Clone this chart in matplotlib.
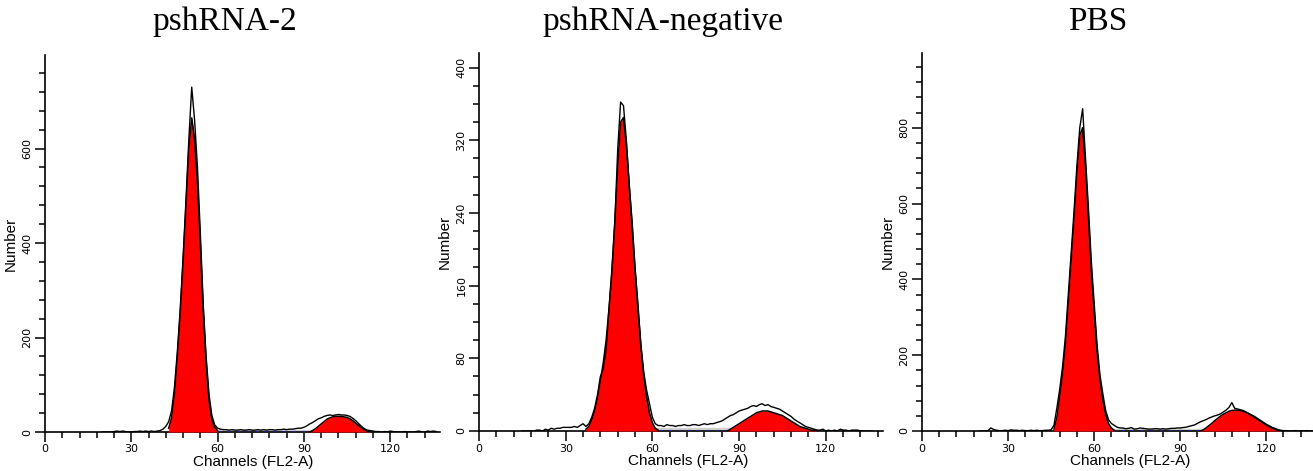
import numpy as np
import matplotlib
matplotlib.use('Agg')
import matplotlib.pyplot as plt
from matplotlib.ticker import MultipleLocator
from matplotlib.transforms import blended_transform_factory

# ---- pshRNA-2 ----
p1_start = 20
p1_counts = [0, 0, 0, 0,
             1, 2, 1, 2, 1, 0,
             0, 1, 1, 2, 1, 2, 1, 2, 1, 2,
             3, 6, 12,
             22, 45, 95, 170, 260, 370, 490, 620, 730, 660, 560, 420, 270, 160, 80, 35, 15, 8,
             6, 5, 5, 4, 5, 4, 4, 5, 4, 4, 5, 4, 4, 5, 4, 5, 4, 5, 5, 4, 5, 5, 6, 5, 6, 6, 7, 8, 8, 10, 13, 17,
             20, 24, 28, 30, 33, 35, 36, 35, 36, 37, 36, 36, 35, 33, 29, 24, 18, 12, 7, 4, 3,
             2, 1, 1, 0, 1, 0, 2, 1, 0, 0, 0, 1, 0, 0, 0, 1, 2, 0, 0, 2, 1, 2, 1]
p1_g1_start = 43
p1_g1 = [8, 30, 80, 160, 250, 360, 480, 600, 665, 620, 530, 400, 260, 150, 70, 28, 10, 3]
p1_g2_start = 92
p1_g2 = [0, 3, 7, 12, 17, 22, 27, 30, 32, 33, 33, 33, 32, 31, 28, 24, 19, 14, 9, 5, 2, 0]
p1_s = [57, 96, 4]

# ---- pshRNA-negative ----
p2_start = 15
p2_counts = [0, 0, 0, 0, 0,
             1, 1, 0, 2, 1, 3, 2, 3, 3, 4, 4, 4, 4, 5, 4, 6, 8,
             5, 8, 15, 25, 40, 60, 68, 90, 135, 175, 230, 310, 362, 358, 320, 270, 230, 180, 140, 95,
             65, 45, 30, 15, 8, 6,
             6, 5, 7, 6, 6, 5, 6, 6, 7, 6, 6, 7, 7, 6, 7, 8, 7, 8, 8, 9, 10, 11, 13, 15,
             17, 18, 20, 22, 23, 24, 25, 27, 28, 27, 29, 30, 28, 29, 27, 26, 25, 24, 22, 20, 18, 16,
             13, 11, 9, 7, 5, 4, 3, 2, 1,
             1, 2, 0, 1, 0, 1, 0, 2, 1, 1, 0, 1, 1, 1, 0, 0, 0, 0, 0]
p2_g1_start = 37
p2_g1 = [2, 5, 12, 22, 36, 55, 75, 100, 135, 178, 230, 290, 340, 345, 315, 270, 225, 178, 135, 95,
         62, 38, 20, 9, 3, 1]
p2_g2_start = 86
p2_g2 = [0, 2, 4, 6, 8, 10, 12, 14, 16, 18, 20, 21, 22, 22, 22, 21, 20, 19, 18, 17, 15, 13, 11, 9,
         7, 5, 4, 3, 2, 1, 1, 0]
p2_s = [53, 100, 3]

# ---- PBS ----
p3_start = 20
p3_counts = [0, 0, 0, 1,
             8, 4, 2,
             1, 1, 2, 1, 3, 2, 2, 1, 2, 1, 1, 2, 1, 2, 1, 1, 2, 2,
             3, 15, 60, 110, 170, 250, 360, 470, 580, 700, 800, 850, 720, 590, 450, 340, 230, 150,
             100, 55, 30, 20, 15, 10, 8,
             8, 6, 7, 9, 5, 6, 8, 7, 6, 5, 5, 6, 6, 5, 6, 5, 6, 7, 7, 8, 8, 9, 10, 12, 14, 16,
             20, 24, 27, 30, 34, 37, 40, 42, 45, 50, 55, 62, 75, 60, 58, 56, 54, 50, 46, 42, 38, 33,
             28, 23, 18, 14, 10, 7, 4, 2, 1,
             1, 0, 0, 1, 0, 0, 0, 1, 0, 0]
p3_g1_start = 46
p3_g1 = [5, 35, 90, 150, 230, 340, 450, 560, 680, 780, 800, 700, 570, 430, 320, 215, 140, 85, 45,
         20, 8, 2]
p3_g2_start = 97
p3_g2 = [0, 3, 8, 14, 20, 27, 33, 39, 44, 48, 52, 54, 55, 55, 54, 52, 49, 45, 41, 36, 31, 26, 21,
         16, 12, 8, 5, 2, 0]
p3_s = [60, 104, 4]

titles = ['pshRNA-2', 'pshRNA-negative', 'PBS']
y_max = [798, 416, 997]
y_major = [200, 80, 200]
y_minor = [40, 20, 40]
x_max = [137.3, 139.8, 136.3]

# pixel boxes (left, right, top, bottom) in the 1313x471 picture
boxes = [(45, 440, 55, 432), (479, 883, 53, 431), (922, 1313, 53, 431)]
title_x = [225, 663, 1098]

panels = [
    (p1_start, p1_counts, p1_g1_start, p1_g1, p1_g2_start, p1_g2, p1_s),
    (p2_start, p2_counts, p2_g1_start, p2_g1, p2_g2_start, p2_g2, p2_s),
    (p3_start, p3_counts, p3_g1_start, p3_g1, p3_g2_start, p3_g2, p3_s),
]

W, H = 1313, 471
fig = plt.figure(figsize=(W / 100, H / 100), dpi=100)

for i, (c0, counts, g1s, g1, g2s, g2, s) in enumerate(panels):
    l, r, t, b = boxes[i]
    ax = fig.add_axes([l / W, (H - b) / H, (r - l) / W, (b - t) / H])

    ch = np.arange(c0, c0 + len(counts))
    ch1 = np.arange(g1s, g1s + len(g1))
    ch2 = np.arange(g2s, g2s + len(g2))
    chs = np.arange(s[0], s[1] + 1)

    # S phase band on the baseline
    ax.fill_between(chs, 0, s[2], color='#cfcfcf', zorder=2)
    ax.plot(chs, np.full(len(chs), s[2] * 0.5), color='#2020c0', lw=0.9,
            ls=(0, (1.5, 6)), zorder=3)

    # G1 / G2 fit
    ax.fill_between(ch1, 0, g1, color='#ff0000', lw=0, zorder=3)
    ax.plot(ch1, g1, color='black', lw=1.1, zorder=4)
    ax.fill_between(ch2, 0, g2, color='#ff0000', lw=0, zorder=3)
    ax.plot(ch2, g2, color='black', lw=1.1, zorder=4)

    # raw histogram
    ax.plot(ch, counts, color='black', lw=1.0, zorder=5)

    ax.set_xlim(0, x_max[i])
    ax.set_ylim(0, y_max[i])
    for sp in ['top', 'right']:
        ax.spines[sp].set_visible(False)
    ax.spines['left'].set_linewidth(1.2)
    ax.spines['bottom'].set_linewidth(1.2)

    ax.xaxis.set_major_locator(MultipleLocator(30))
    ax.xaxis.set_minor_locator(MultipleLocator(6))
    ax.yaxis.set_major_locator(MultipleLocator(y_major[i]))
    ax.yaxis.set_minor_locator(MultipleLocator(y_minor[i]))
    ax.tick_params(which='major', direction='out', length=7, width=1.1, labelsize=8, pad=2)
    ax.tick_params(which='minor', direction='out', length=4, width=1.1)
    for lab in ax.get_yticklabels():
        lab.set_rotation(90)
        lab.set_va('center')

    ax.set_xlabel('Channels (FL2-A)', fontsize=11, family='Liberation Sans')
    ax.xaxis.set_label_coords(72.5, -23 / (b - t),
                              transform=blended_transform_factory(ax.transData, ax.transAxes))
    ax.set_ylabel('Number', fontsize=11, family='Liberation Sans')
    ax.yaxis.set_label_coords(-27 / (r - l), 0.5)

    fig.text(title_x[i] / W, 1 - 22 / H, titles[i], ha='center', va='center',
             fontsize=24, family='Liberation Serif')

plt.savefig('out.png', dpi=100)
